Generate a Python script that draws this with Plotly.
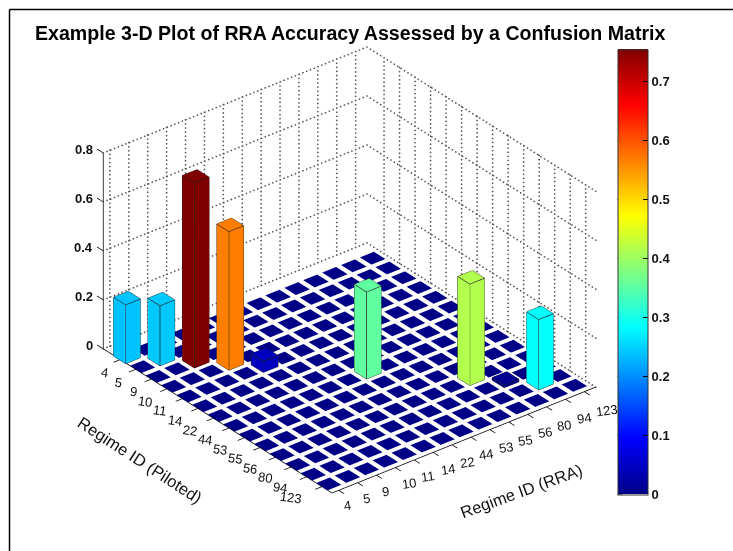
import math
import plotly.graph_objects as go

TITLE = "Example 3-D Plot of RRA Accuracy Assessed by a Confusion Matrix"
regimes = ["4", "5", "9", "10", "11", "14", "22", "44", "53", "55", "56", "80", "94", "123"]
diag_values = [0.24, 0.245, 0.755, 0.566, 0.045, 0, 0, 0.355, 0, 0, 0.414, 0.01, 0.287, 0]
z_ticks = [0, 0.2, 0.4, 0.6, 0.8]
cbar_ticks = [0, 0.1, 0.2, 0.3, 0.4, 0.5, 0.6, 0.7]

# box limits in cell-index units
X0, X1 = -0.099, 14.65   # Piloted, back-left to front
Y0, Y1 = 0.648, 14.6     # RRA, front to back-right
Z0, Z1 = 0.0, 0.8
PAD = 2.0
ZPAD = 0.15
Lx, Ly, Lz = 364.0, 335.0, 225.0
ALPHA = math.radians(38.6)
PHI = math.radians(30.2)
EYE = 1.5
SCALE = 268.0
DOMX = [0.0, 0.954]
DOMY = [0.02, 1.0]
BAR = 0.39
FLOOR = 0.37
CB_TOP, CB_BOT, CB_L, CB_R, CMAX = 49.5, 494.0, 617.5, 647.5, 0.755

jet = [[0, "rgb(0,0,135)"], [0.125, "rgb(0,0,255)"], [0.375, "rgb(0,255,255)"],
       [0.625, "rgb(255,255,0)"], [0.875, "rgb(255,0,0)"], [1, "rgb(128,0,0)"]]

n = len(regimes)
vx, vy, vz, vi, ti, tj, tk = [], [], [], [], [], [], []
FACES = [(0,1,2),(0,2,3),(4,5,6),(4,6,7),(0,1,5),(0,5,4),(1,2,6),(1,6,5),(2,3,7),(2,7,6),(3,0,4),(3,4,7)]
ex, ey, ez = [], [], []


def add_box(cx, cy, h, w):
    b = len(vx)
    for zz in (0, h):
        for dx, dy in ((-w, -w), (w, -w), (w, w), (-w, w)):
            vx.append(cx + dx); vy.append(cy + dy); vz.append(zz); vi.append(h)
    for a, c, d in FACES:
        ti.append(b + a); tj.append(b + c); tk.append(b + d)


for p in range(1, n + 1):
    for r in range(1, n + 1):
        h = diag_values[p - 1] if p == r else 0
        add_box(p, r, h, BAR if h > 0 else FLOOR)
        if h > 0:
            c = [(p - BAR, r - BAR), (p + BAR, r - BAR), (p + BAR, r + BAR), (p - BAR, r + BAR)]
            for a, b2 in zip(c, c[1:] + c[:1]):
                ex += [a[0], b2[0], None]; ey += [a[1], b2[1], None]; ez += [h, h, None]
                ex += [a[0], b2[0], None]; ey += [a[1], b2[1], None]; ez += [0, 0, None]
            for a in c:
                ex += [a[0], a[0], None]; ey += [a[1], a[1], None]; ez += [0, h, None]

# dotted grid on the two back walls, drawn as small dots along each grid line
gx, gy, gz = [], [], []


def dots(p0, p1, px_len):
    m = max(2, int(px_len / 4.0))
    for s in range(m + 1):
        f = s / m
        gx.append(p0[0] + f * (p1[0] - p0[0]))
        gy.append(p0[1] + f * (p1[1] - p0[1]))
        gz.append(p0[2] + f * (p1[2] - p0[2]))


for t in range(1, n + 1):
    dots((X0, t, Z0), (X0, t, Z1), 195)
    dots((t, Y1, Z0), (t, Y1, Z1), 195)
for zt in z_ticks:
    dots((X0, Y0, zt), (X0, Y1, zt), 282)
    dots((X0, Y1, zt), (X1, Y1, zt), 268)

ax, ay, az = [], [], []
ax += [X0, X0, None, X0, X1, None, X1, X1, None]
ay += [Y0, Y0, None, Y0, Y0, None, Y0, Y1, None]
az += [Z0, Z1, None, 0, 0, None, 0, 0, None]
for t in range(1, n + 1):
    ax += [t, t, None]; ay += [Y0, Y0 - 0.35, None]; az += [0, 0, None]
    ax += [X1, X1 + 0.35, None]; ay += [t, t, None]; az += [0, 0, None]
for zt in z_ticks:
    ax += [X0, X0 - 0.4, None]; ay += [Y0, Y0, None]; az += [zt, zt, None]

fig = go.Figure()
fig.add_trace(go.Mesh3d(x=vx, y=vy, z=vz, i=ti, j=tj, k=tk, intensity=vi, colorscale=jet,
                        cmin=0, cmax=CMAX, flatshading=True, hoverinfo="skip",
                        lighting=dict(ambient=1, diffuse=0, specular=0, fresnel=0, roughness=1),
                        colorbar=dict(x=CB_L / 733, xanchor="left", y=1 - CB_TOP / 551, yanchor="top",
                                      len=CB_BOT - CB_TOP, lenmode="pixels", thickness=CB_R - CB_L, thicknessmode="pixels",
                                      xpad=0, ypad=0, tickvals=cbar_ticks, ticktext=[str(v) for v in cbar_ticks],
                                      ticks="inside", ticklen=5, tickcolor="black",
                                      outlinecolor="#333", outlinewidth=1,
                                      tickfont=dict(family="Liberation Sans", size=13, color="#111", weight="bold"))))
fig.add_trace(go.Scatter3d(x=gx, y=gy, z=gz, mode="markers", marker=dict(color="#555", size=1, line=dict(width=0)), hoverinfo="skip", showlegend=False))
fig.add_trace(go.Scatter3d(x=ex, y=ey, z=ez, mode="lines", line=dict(color="#222", width=1.5), hoverinfo="skip", showlegend=False))
fig.add_trace(go.Scatter3d(x=ax, y=ay, z=az, mode="lines", line=dict(color="black", width=1.5), hoverinfo="skip", showlegend=False))

ann = []
tfb = dict(family="Liberation Sans", size=13, color="#111", weight="bold")
tf = dict(family="Liberation Sans", size=13, color="#111")
for k, lab in enumerate(regimes):
    t = k + 1
    ann.append(dict(x=t, y=Y0, z=0, text=lab, showarrow=False, xanchor="right", xshift=-9.5 - 0.59 * k,
                    yshift=-(13.0 - 0.2 * k), textangle=8, font=tf))
    ann.append(dict(x=X1, y=t, z=0, text=lab, showarrow=False, xanchor="left", xshift=1.5 + 0.51 * k,
                    yshift=-(15.6 + 0.28 * k), textangle=-8, font=tf))
for zt in z_ticks:
    ann.append(dict(x=X0, y=Y0, z=zt, text=str(zt), showarrow=False, xshift=-8, yshift=3, xanchor="right", font=tfb))
lf = dict(family="Liberation Sans", size=16.5, color="#111")
ann.append(dict(x=8.2, y=Y0, z=0, text="Regime ID (Piloted)", showarrow=False, xshift=-92, yshift=-30, textangle=33, font=lf))
ann.append(dict(x=X1, y=8.2, z=0, text="Regime ID (RRA)", showarrow=False, xshift=46, yshift=-55, textangle=-20, font=lf))

rx = (X1 - X0) + 2 * PAD
ry = (Y1 - Y0) + 2 * PAD
rz = (Z1 - Z0) + 2 * ZPAD
aspect = dict(x=Lx * rx / (X1 - X0) / SCALE, y=Ly * ry / (Y1 - Y0) / SCALE, z=Lz * rz / (Z1 - Z0) / SCALE)
hid = dict(visible=False, showgrid=False, zeroline=False, showticklabels=False, showbackground=False, showspikes=False)

shapes = [dict(type="line", xref="paper", yref="paper", x0=9.5 / 733, x1=9.5 / 733, y0=0, y1=1 - 9.5 / 551, line=dict(color="black", width=1.5)),
          dict(type="line", xref="paper", yref="paper", x0=9.5 / 733, x1=1, y0=1 - 9.5 / 551, y1=1 - 9.5 / 551, line=dict(color="black", width=1.5))]
for v in cbar_ticks:
    yy = CB_BOT - v / CMAX * (CB_BOT - CB_TOP)
    shapes.append(dict(type="line", xref="paper", yref="paper", x0=CB_L / 733, x1=(CB_L + 5) / 733, y0=1 - yy / 551, y1=1 - yy / 551, line=dict(color="black", width=1)))

fig.update_layout(
    width=733, height=551, margin=dict(l=0, r=0, t=0, b=0), paper_bgcolor="white", showlegend=False,
    title=dict(text="<b>" + TITLE + "</b>", x=35 / 733, xanchor="left", y=1 - 33 / 551, yanchor="middle",
               font=dict(family="Liberation Sans", size=19.6, color="black")),
    scene=dict(domain=dict(x=DOMX, y=DOMY), aspectmode="manual", aspectratio=aspect,
               xaxis=dict(range=[X0 - PAD, X1 + PAD], **hid),
               yaxis=dict(range=[Y0 - PAD, Y1 + PAD], **hid),
               zaxis=dict(range=[Z0 - ZPAD, Z1 + ZPAD], **hid),
               camera=dict(projection=dict(type="orthographic"), up=dict(x=0, y=0, z=1), center=dict(x=0, y=0, z=0),
                           eye=dict(x=EYE * math.cos(PHI) * math.cos(ALPHA), y=-EYE * math.cos(PHI) * math.sin(ALPHA), z=EYE * math.sin(PHI))),
               annotations=ann),
    shapes=shapes,
)
fig.write_html("out.html", config={"displayModeBar": False}, post_script="document.body.style.margin='0';")
